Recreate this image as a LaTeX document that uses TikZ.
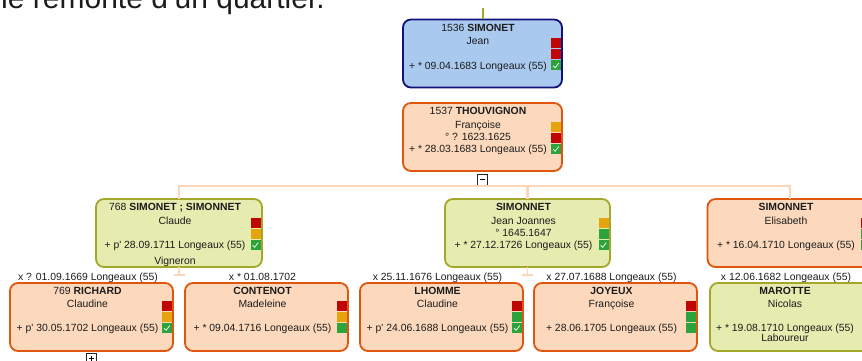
\documentclass[tikz,border=0pt]{standalone}
\usepackage{fontspec}
\setmainfont{Liberation Sans}
\usepackage{tikz}
\usetikzlibrary{positioning}
\definecolor{bleufond}{HTML}{A9C9EF}
\definecolor{bleubord}{HTML}{11117A}
\definecolor{rosefond}{HTML}{FCD9BD}
\definecolor{rosebord}{HTML}{E0560F}
\definecolor{vertfond}{HTML}{E6EBAF}
\definecolor{vertbord}{HTML}{A3A82B}
\definecolor{peche}{HTML}{FBD6B9}
\definecolor{rouge}{HTML}{C00505}
\definecolor{jaune}{HTML}{E5A30E}
\definecolor{vert}{HTML}{2DA33B}
\definecolor{encre}{HTML}{1C1C1C}
\tikzset{fiche/.style={draw,rounded corners=8pt,line width=1.8pt,outer sep=0pt,inner sep=0pt,minimum width=163pt,minimum height=68pt}}
\tikzset{racine/.style={fiche,fill=bleufond,draw=bleubord}}
\tikzset{femme/.style={fiche,fill=rosefond,draw=rosebord}}
\tikzset{homme/.style={fiche,fill=vertfond,draw=vertbord}}
\tikzset{ligne/.style={anchor=base,inner sep=0pt,text=encre,font=\fontsize{10.4}{12}\selectfont}}
\tikzset{carre/.style={inner sep=0pt,minimum size=10pt}}
\tikzset{coche/.style={carre,fill=vert,path picture={\draw[white,line width=0.7pt] ([shift={(-2.8,0.2)}]path picture bounding box.center) -- ([shift={(-0.9,2.3)}]path picture bounding box.center) -- ([shift={(2.8,-2.4)}]path picture bounding box.center);}}}
\tikzset{lien/.style={draw=peche,line width=2.4pt}}
\tikzset{bouton/.style={draw=black!85,fill=white,line width=0.7pt,minimum size=10.5pt,inner sep=0pt}}

\begin{document}
\begin{tikzpicture}[x=1pt,y=-1pt]
	\useasboundingbox (0,0) rectangle (862,361);
	\clip (0,0) rectangle (862,361);
	\node[anchor=base east,inner sep=0pt,text=encre,font=\fontsize{30}{36}\selectfont] (titre) at (325,8.5) {On ne remonte d'un quartier.};
	% les fiches
	\node[racine,minimum width=159pt] (b1536) at (482.5,53.5) {};
	\node[femme,minimum width=159pt] (b1537) at (482.5,137) {};
	\node[homme,minimum width=166pt] (b768) at (179,233) {};
	\node[homme,minimum width=165pt] (bJJ) at (527.5,233) {};
	\node[femme,minimum width=165pt] (bElis) at (790,233) {};
	\node[femme] (b769) at (91.5,317) {};
	\node[femme] (bCont) at (266.5,317) {};
	\node[femme] (bLhom) at (441.5,317) {};
	\node[femme] (bJoy) at (615.5,317) {};
	\node[homme] (bMar) at (791.5,317) {};
	% liens
	\draw[vertbord,line width=2pt] (b1536.north) -- ++(0,-11) coordinate (haut);
	\node[bouton,below=3pt of b1537] (moins) {};
	\draw[line width=0.8pt] ([xshift=-2.5pt]moins.center) -- ([xshift=2.5pt]moins.center);
	\coordinate (barre) at ([shift={(0,1)}]moins.south);
	\draw[lien] (b768.north) |- (barre -| bElis.north) -- (bElis.north);
	\draw[lien] (bJJ.north) -- (bJJ.north |- barre);
	\draw[lien,line width=1.5pt] (b768.south) -- ++(0,8) coordinate (n768);
	\draw[lien,line width=1.5pt] ([xshift=-5.5pt]n768) -- ([xshift=5.5pt]n768);
	\draw[lien,line width=1.5pt] (bJJ.south) -- ++(0,8) coordinate (nJJ);
	\draw[lien,line width=1.5pt] ([xshift=-5.5pt]nJJ) -- ([xshift=5.5pt]nJJ);
	\node[bouton,below=2pt of b769] (plus) {};
	\draw[line width=0.8pt] ([xshift=-2.5pt]plus.center) -- ([xshift=2.5pt]plus.center);
	\draw[line width=0.8pt] ([yshift=-2.5pt]plus.center) -- ([yshift=2.5pt]plus.center);
	% 1536
	\node[ligne] at ([shift={(-4.5,11.7)}]b1536.north) {1536 \textbf{SIMONET}};
	\node[ligne] at ([shift={(-4.5,25.2)}]b1536.north) {Jean};
	\node[ligne] at ([shift={(-4.5,49.7)}]b1536.north) {+ * 09.04.1683 Longeaux (55)};
	\node[carre,fill=rouge] at ([shift={(-6,24)}]b1536.north east) {};
	\node[carre,fill=rouge] at ([shift={(-6,35)}]b1536.north east) {};
	\node[coche] at ([shift={(-6,46)}]b1536.north east) {};
	% 1537
	\node[ligne] at ([shift={(-4.5,11.7)}]b1537.north) {1537 \textbf{THOUVIGNON}};
	\node[ligne] at ([shift={(-4.5,25.2)}]b1537.north) {Françoise};
	\node[ligne] at ([shift={(-4.5,37.7)}]b1537.north) {° ? 1623.1625};
	\node[ligne] at ([shift={(-4.5,49.7)}]b1537.north) {+ * 28.03.1683 Longeaux (55)};
	\node[carre,fill=jaune] at ([shift={(-6,24)}]b1537.north east) {};
	\node[carre,fill=rouge] at ([shift={(-6,35)}]b1537.north east) {};
	\node[coche] at ([shift={(-6,46)}]b1537.north east) {};
	% 768
	\node[ligne] at ([shift={(-4,11.7)}]b768.north) {768 \textbf{SIMONET ; SIMONNET}};
	\node[ligne] at ([shift={(-4,25.2)}]b768.north) {Claude};
	\node[ligne] at ([shift={(-4,49.7)}]b768.north) {+ p\textquotesingle{} 28.09.1711 Longeaux (55)};
	\node[ligne] at ([shift={(-4,65.5)}]b768.north) {Vigneron};
	\node[carre,fill=rouge] at ([shift={(-6.5,24)}]b768.north east) {};
	\node[carre,fill=jaune] at ([shift={(-6.5,35)}]b768.north east) {};
	\node[coche] at ([shift={(-6.5,46)}]b768.north east) {};
	% Jean Joannes
	\node[ligne] at ([shift={(-4,11.7)}]bJJ.north) {\textbf{SIMONNET}};
	\node[ligne] at ([shift={(-4,25.2)}]bJJ.north) {Jean Joannes};
	\node[ligne] at ([shift={(-4,37.7)}]bJJ.north) {° 1645.1647};
	\node[ligne] at ([shift={(-4,49.7)}]bJJ.north) {+ * 27.12.1726 Longeaux (55)};
	\node[carre,fill=jaune] at ([shift={(-6.5,24)}]bJJ.north east) {};
	\node[carre,fill=vert] at ([shift={(-6.5,35)}]bJJ.north east) {};
	\node[coche] at ([shift={(-6.5,46)}]bJJ.north east) {};
	% Elisabeth
	\node[ligne] at ([shift={(-4,11.7)}]bElis.north) {\textbf{SIMONNET}};
	\node[ligne] at ([shift={(-4,25.2)}]bElis.north) {Elisabeth};
	\node[ligne] at ([shift={(-4,49.7)}]bElis.north) {+ * 16.04.1710 Longeaux (55)};
	\node[carre,fill=rouge] at ([shift={(-6.5,24)}]bElis.north east) {};
	\node[carre,fill=vert] at ([shift={(-6.5,35)}]bElis.north east) {};
	\node[coche] at ([shift={(-6.5,46)}]bElis.north east) {};
	% conjoints
	\node[ligne] (m769) at ([shift={(-3.5,-2.5)}]b769.north) {x ? 01.09.1669 Longeaux (55)};
	\node[ligne] at ([shift={(-4,11)}]b769.north) {769 \textbf{RICHARD}};
	\node[ligne] at ([shift={(-4,24)}]b769.north) {Claudine};
	\node[ligne] at ([shift={(-4,48.7)}]b769.north) {+ p\textquotesingle{} 30.05.1702 Longeaux (55)};
	\node[carre,fill=rouge] at ([shift={(-6,23)}]b769.north east) {};
	\node[carre,fill=jaune] at ([shift={(-6,34)}]b769.north east) {};
	\node[coche] at ([shift={(-6,45)}]b769.north east) {};
	\node[ligne] (mCont) at ([shift={(-4,-2.5)}]bCont.north) {x * 01.08.1702};
	\node[ligne] at ([shift={(-4,11)}]bCont.north) {\textbf{CONTENOT}};
	\node[ligne] at ([shift={(-4,24)}]bCont.north) {Madeleine};
	\node[ligne] at ([shift={(-4,48.7)}]bCont.north) {+ * 09.04.1716 Longeaux (55)};
	\node[carre,fill=rouge] at ([shift={(-6,23)}]bCont.north east) {};
	\node[carre,fill=jaune] at ([shift={(-6,34)}]bCont.north east) {};
	\node[carre,fill=vert] at ([shift={(-6,45)}]bCont.north east) {};
	\node[ligne] (mLhom) at ([shift={(-4,-2.5)}]bLhom.north) {x 25.11.1676 Longeaux (55)};
	\node[ligne] at ([shift={(-4,11)}]bLhom.north) {\textbf{LHOMME}};
	\node[ligne] at ([shift={(-4,24)}]bLhom.north) {Claudine};
	\node[ligne] at ([shift={(-4,48.7)}]bLhom.north) {+ p\textquotesingle{} 24.06.1688 Longeaux (55)};
	\node[carre,fill=rouge] at ([shift={(-6,23)}]bLhom.north east) {};
	\node[carre,fill=vert] at ([shift={(-6,34)}]bLhom.north east) {};
	\node[coche] at ([shift={(-6,45)}]bLhom.north east) {};
	\node[ligne] (mJoy) at ([shift={(-4,-2.5)}]bJoy.north) {x 27.07.1688 Longeaux (55)};
	\node[ligne] at ([shift={(-4,11)}]bJoy.north) {\textbf{JOYEUX}};
	\node[ligne] at ([shift={(-4,24)}]bJoy.north) {Françoise};
	\node[ligne] at ([shift={(-4,48.7)}]bJoy.north) {+ 28.06.1705 Longeaux (55)};
	\node[carre,fill=rouge] at ([shift={(-6,23)}]bJoy.north east) {};
	\node[carre,fill=vert] at ([shift={(-6,34)}]bJoy.north east) {};
	\node[carre,fill=vert] at ([shift={(-6,45)}]bJoy.north east) {};
	\node[ligne] (mMar) at ([shift={(-5.5,-2.5)}]bMar.north) {x 12.06.1682 Longeaux (55)};
	\node[ligne] at ([shift={(-6.5,11)}]bMar.north) {\textbf{MAROTTE}};
	\node[ligne] at ([shift={(-6.5,24)}]bMar.north) {Nicolas};
	\node[ligne] at ([shift={(-6.5,48.7)}]bMar.north) {+ * 19.08.1710 Longeaux (55)};
	\node[ligne] at ([shift={(-6.5,58.5)}]bMar.north) {Laboureur};
	\node[carre,fill=rouge] at ([shift={(-6,23)}]bMar.north east) {};
	\node[carre,fill=vert] at ([shift={(-6,34)}]bMar.north east) {};
	\node[coche] at ([shift={(-6,45)}]bMar.north east) {};
\end{tikzpicture}
\end{document}
